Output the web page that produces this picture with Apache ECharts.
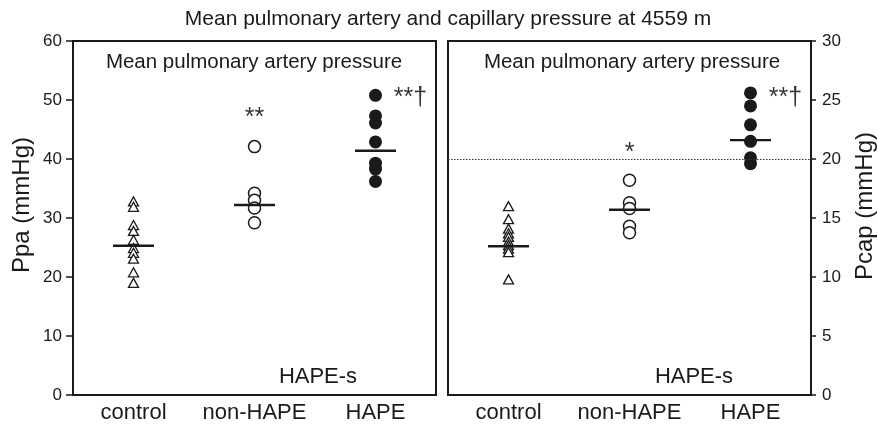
<!DOCTYPE html>
<html>
<head>
<meta charset="utf-8">
<script src="https://cdn.jsdelivr.net/npm/echarts@6/dist/echarts.min.js"></script>
<style>html,body{margin:0;padding:0;background:#fff}#c{width:878px;height:427px}</style>
</head>
<body>
<div id="c"></div>
<script>
var categories = ['control', 'non-HAPE', 'HAPE'];

// Left panel: Ppa (mmHg)
var ppaControl = [32.8, 31.9, 28.8, 27.8, 26.3, 24.9, 24.1, 23.1, 20.8, 19.0];
var ppaNonHape = [42.1, 34.2, 33.0, 31.7, 29.2];
var ppaHape = [50.8, 47.3, 46.1, 42.9, 39.3, 38.3, 36.2];
var ppaMeans = [25.3, 32.2, 41.4];

// Right panel: Pcap (mmHg)
var pcapControl = [16.0, 14.9, 14.1, 13.7, 13.4, 13.0, 12.7, 12.4, 12.1, 9.8];
var pcapNonHape = [18.2, 16.3, 15.8, 14.3, 13.75];
var pcapHape = [25.6, 24.5, 22.9, 21.5, 20.1, 19.6];
var pcapMeans = [12.6, 15.7, 21.6];
var pcapThreshold = 20;

// significance annotations: [category index, value, text]
var ppaMarks = [[1, 47.0, '**'], [2, 50.4, '**†']];
var pcapMarks = [[1, 20.5, '*'], [2, 25.2, '**†']];

var ppaTicks = [0, 60, 10];
var pcapTicks = [0, 30, 5];

var FONT = 'Liberation Sans, Arial, sans-serif';
var INK = '#1a1a1a';

function pts(idx, arr) { return arr.map(function (v) { return [idx, v]; }); }
function means(arr) { return arr.map(function (v, i) { return [i, v]; }); }

function groupSeries(g, ctrl, non, hape, mn, marks, extra) {
  var s = [
    { type: 'scatter', xAxisIndex: g, yAxisIndex: g, data: pts(0, ctrl), symbol: 'triangle', symbolSize: [10, 9],
      itemStyle: { color: '#fff', borderColor: INK, borderWidth: 1.3, opacity: 1 }, z: 3 },
    { type: 'scatter', xAxisIndex: g, yAxisIndex: g, data: pts(1, non), symbol: 'circle', symbolSize: 12,
      itemStyle: { color: '#fff', borderColor: INK, borderWidth: 1.5, opacity: 1 }, z: 3 },
    { type: 'scatter', xAxisIndex: g, yAxisIndex: g, data: pts(2, hape), symbol: 'circle', symbolSize: 13,
      itemStyle: { color: INK, opacity: 1 }, z: 3 },
    { type: 'scatter', xAxisIndex: g, yAxisIndex: g, data: means(mn), symbol: 'rect', symbolSize: [41, 2.4],
      itemStyle: { color: INK, opacity: 1 }, z: 4 },
    { type: 'scatter', xAxisIndex: g, yAxisIndex: g, symbolSize: 0,
      data: marks.map(function (m) { return { value: [m[0], m[1]], name: m[2],
        label: { offset: [m[2].length > 2 ? 35 : 0, 0] } }; }),
      label: { show: true, position: 'inside', formatter: function (p) { return p.name; },
        color: '#000', fontSize: 25, fontFamily: FONT }, z: 5 }
  ];
  if (extra) s.push(extra);
  return s;
}

var chart = echarts.init(document.getElementById('c'), null, { renderer: 'canvas' });

var axisCommonX = {
  type: 'category', data: categories, boundaryGap: true,
  axisTick: { show: false },
  axisLine: { show: true, lineStyle: { color: INK, width: 2 } },
  axisLabel: { fontSize: 22, color: INK, fontFamily: FONT, margin: 7, interval: 0, hideOverlap: false },
  splitLine: { show: false }
};

var option = {
  animation: false,
  backgroundColor: '#fff',
  grid: [
    { left: 73, top: 41, width: 363, height: 354, show: true, borderColor: INK, borderWidth: 2, backgroundColor: 'transparent' },
    { left: 448, top: 41, width: 363, height: 354, show: true, borderColor: INK, borderWidth: 2, backgroundColor: 'transparent' }
  ],
  xAxis: [
    Object.assign({ gridIndex: 0 }, axisCommonX),
    Object.assign({ gridIndex: 1 }, axisCommonX)
  ],
  yAxis: [
    { gridIndex: 0, type: 'value', min: ppaTicks[0], max: ppaTicks[1], interval: ppaTicks[2], position: 'left',
      axisLine: { show: true, lineStyle: { color: INK, width: 2 } },
      axisTick: { show: true, inside: false, length: 7, lineStyle: { color: INK, width: 1.5 } },
      axisLabel: { fontSize: 17, color: INK, fontFamily: FONT, margin: 11 },
      splitLine: { show: false } },
    { gridIndex: 1, type: 'value', min: pcapTicks[0], max: pcapTicks[1], interval: pcapTicks[2], position: 'right',
      axisLine: { show: true, lineStyle: { color: INK, width: 2 } },
      axisTick: { show: true, inside: false, length: 5, lineStyle: { color: INK, width: 1.5 } },
      axisLabel: { fontSize: 17, color: INK, fontFamily: FONT, margin: 11 },
      splitLine: { show: false } }
  ],
  graphic: [
    { type: 'text', x: 448, y: 19, style: { text: 'Mean pulmonary artery and capillary pressure at 4559 m',
      font: '21px ' + FONT, fill: INK, textAlign: 'center', textVerticalAlign: 'middle' } },
    { type: 'text', x: 254, y: 62, style: { text: 'Mean pulmonary artery pressure',
      font: '20.5px ' + FONT, fill: INK, textAlign: 'center', textVerticalAlign: 'middle' } },
    { type: 'text', x: 632, y: 62, style: { text: 'Mean pulmonary artery pressure',
      font: '20.5px ' + FONT, fill: INK, textAlign: 'center', textVerticalAlign: 'middle' } },
    { type: 'text', x: 318, y: 377, style: { text: 'HAPE-s',
      font: '22px ' + FONT, fill: INK, textAlign: 'center', textVerticalAlign: 'middle' } },
    { type: 'text', x: 694, y: 377, style: { text: 'HAPE-s',
      font: '22px ' + FONT, fill: INK, textAlign: 'center', textVerticalAlign: 'middle' } },
    { type: 'text', x: 22, y: 205, rotation: Math.PI / 2, style: { text: 'Ppa (mmHg)',
      font: '24px ' + FONT, fill: INK, textAlign: 'center', textVerticalAlign: 'middle' } },
    { type: 'text', x: 865, y: 206, rotation: Math.PI / 2, style: { text: 'Pcap (mmHg)',
      font: '24px ' + FONT, fill: INK, textAlign: 'center', textVerticalAlign: 'middle' } }
  ],
  series: [].concat(
    groupSeries(0, ppaControl, ppaNonHape, ppaHape, ppaMeans, ppaMarks),
    groupSeries(1, pcapControl, pcapNonHape, pcapHape, pcapMeans, pcapMarks, {
      type: 'line', xAxisIndex: 1, yAxisIndex: 1, data: [], silent: true,
      markLine: { silent: true, symbol: 'none', label: { show: false },
        lineStyle: { type: [1.5, 1.5], color: '#333', width: 1 },
        data: [{ yAxis: pcapThreshold }] }
    })
  )
};
chart.setOption(option);
</script>
</body>
</html>
